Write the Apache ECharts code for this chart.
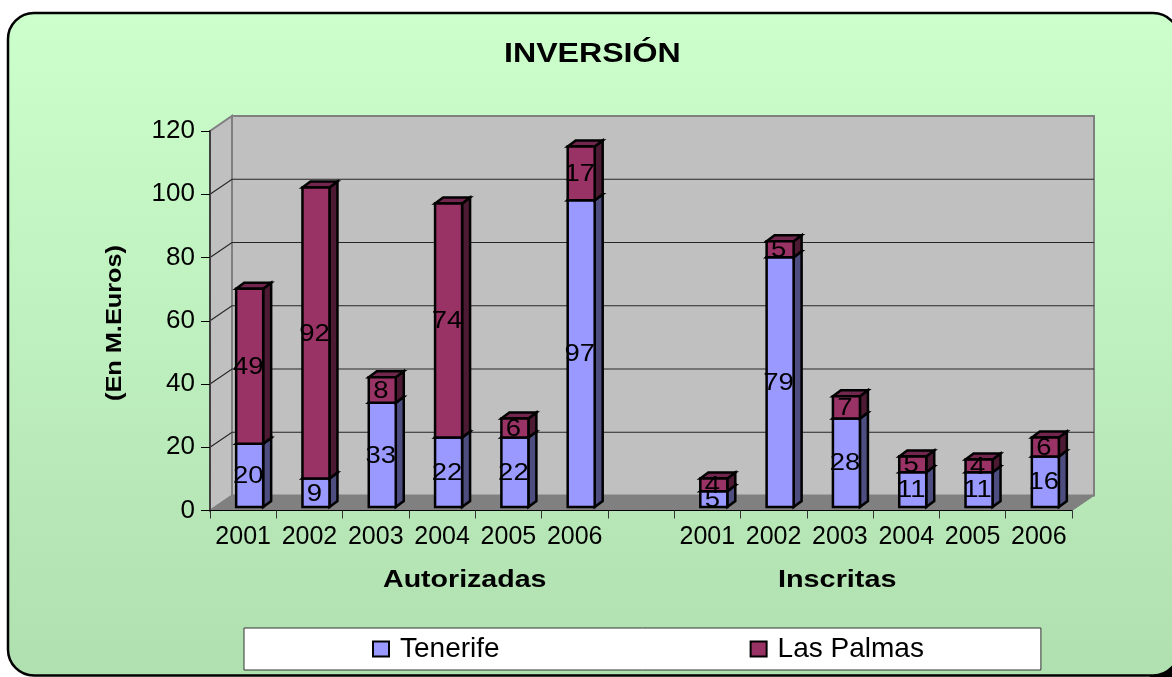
<!DOCTYPE html>
<html>
<head>
<meta charset="utf-8">
<title>Inversión</title>
<style>
  html, body { margin: 0; padding: 0; background: #fff; }
  #chart { width: 1172px; height: 677px; }
</style>
<script src="https://cdn.jsdelivr.net/npm/echarts@6/dist/echarts.min.js"></script>
</head>
<body>
<div id="chart"></div>
<script>
const categories = ['2001', '2002', '2003', '2004', '2005', '2006', '', '2001', '2002', '2003', '2004', '2005', '2006']
const tenerife = [20, 9, 33, 22, 22, 97, null, 5, 79, 28, 11, 11, 16]
const lasPalmas = [49, 92, 8, 74, 6, 17, null, 4, 5, 7, 5, 4, 6]
const yTicks = [0, 20, 40, 60, 80, 100, 120]
const FONT = '"Liberation Sans", Arial, sans-serif'

// fake 3D: depth of the chart box and of each bar, in px
const BOX_DX = 22
const BOX_DY = -15
const BAR_DX = 8
const BAR_DY = -6
const BAR_SHIFT_X = 6.5
const BAR_SHIFT_Y = -3.5
const BAR_W = 27

function poly(points, fill, stroke, lineWidth) {
  return {
    type: 'polygon',
    shape: { points: points },
    style: { fill: fill, stroke: stroke, lineWidth: lineWidth }
  }
}

// side wall, back wall and floor
function renderWalls(params, api) {
  const cs = params.coordSys
  const x0 = cs.x
  const x1 = cs.x + cs.width
  const yTop = api.coord([0, 120])[1]
  const yBase = api.coord([0, 0])[1]
  return {
    type: 'group',
    children: [
      poly([[x0, yTop], [x0 + BOX_DX, yTop + BOX_DY], [x0 + BOX_DX, yBase + BOX_DY], [x0, yBase]], '#C0C0C0', '#808080', 2),
      poly([[x0 + BOX_DX, yTop + BOX_DY], [x1 + BOX_DX, yTop + BOX_DY], [x1 + BOX_DX, yBase + BOX_DY], [x0 + BOX_DX, yBase + BOX_DY]], '#C0C0C0', '#808080', 2),
      poly([[x0, yBase], [x0 + BOX_DX, yBase + BOX_DY], [x1 + BOX_DX, yBase + BOX_DY], [x1, yBase]], '#808080', '#808080', 1)
    ]
  }
}

// grid lines run along the side wall and then the back wall
function renderGrid(params, api) {
  const cs = params.coordSys
  const x0 = cs.x
  const x1 = cs.x + cs.width
  const y = api.coord([0, api.value(0)])[1]
  return {
    type: 'polyline',
    shape: { points: [[x0, y], [x0 + BOX_DX, y + BOX_DY], [x1 + BOX_DX, y + BOX_DY]] },
    style: { fill: 'none', stroke: '#262626', lineWidth: 1.2 }
  }
}

function renderBar(colors) {
  return function (params, api) {
    if (api.value(1) === api.value(2)) return null
    const cx = api.coord([api.value(0), 0])[0] + BAR_SHIFT_X
    const yBot = api.coord([0, api.value(1)])[1] + BAR_SHIFT_Y
    const yTop = api.coord([0, api.value(2)])[1] + BAR_SHIFT_Y
    const l = cx - BAR_W / 2
    const r = cx + BAR_W / 2
    return {
      type: 'group',
      children: [
        poly([[r, yBot], [r + BAR_DX, yBot + BAR_DY], [r + BAR_DX, yTop + BAR_DY], [r, yTop]], colors.side, '#000', 2.5),
        poly([[l, yTop], [l + BAR_DX, yTop + BAR_DY], [r + BAR_DX, yTop + BAR_DY], [r, yTop]], colors.top, '#000', 2.5),
        poly([[l, yBot], [r, yBot], [r, yTop], [l, yTop]], colors.front, '#000', 2.5),
        {
          type: 'text',
          x: cx - 1.5,
          y: (yBot + yTop) / 2 + 1,
          scaleX: 1.12,
          style: {
            text: String(api.value(2) - api.value(1)),
            fill: '#000',
            font: '24.5px ' + FONT,
            align: 'center',
            verticalAlign: 'middle'
          }
        }
      ]
    }
  }
}

// the original text is stretched sideways
function stretchedText(text, x, y, size, stretch) {
  return {
    type: 'text',
    x: x,
    y: y,
    scaleX: stretch,
    style: { text: text, fill: '#000', font: 'bold ' + size + 'px ' + FONT, align: 'left', verticalAlign: 'middle' }
  }
}

// [category, from, to] for each stacked segment
const tenerifeData = tenerife.map((v, i) => [i, 0, v || 0])
const lasPalmasData = lasPalmas.map((v, i) => [i, tenerife[i] || 0, (tenerife[i] || 0) + (v || 0)])

const chart = echarts.init(document.getElementById('chart'))
chart.setOption({
  animation: false,
  textStyle: { fontFamily: FONT },
  graphic: {
    elements: [
      // black notch outside the rounded corner, bottom right
      {
        type: 'rect',
        z: -11,
        shape: { x: 1150, y: 655, width: 22, height: 22 },
        style: { fill: '#000' }
      },
      {
        type: 'rect',
        z: -10,
        shape: { x: 8, y: 13, width: 1171, height: 662.5, r: 26 },
        style: {
          fill: {
            type: 'linear', x: 0, y: 0, x2: 0, y2: 1,
            colorStops: [{ offset: 0, color: '#CCFFCC' }, { offset: 1, color: '#B0DFB0' }]
          },
          stroke: '#000',
          lineWidth: 2.5
        }
      },
      stretchedText('INVERSIÓN', 504, 55, 27, 1.19),
      stretchedText('Autorizadas', 383, 580, 24, 1.19),
      stretchedText('Inscritas', 778, 580, 24, 1.2),
      {
        type: 'text',
        x: 115,
        y: 323,
        rotation: Math.PI / 2,
        scaleX: 1.15,
        style: { text: '(En M.Euros)', fill: '#000', font: 'bold 22px ' + FONT, align: 'center', verticalAlign: 'middle' }
      }
    ]
  },
  legend: {
    left: 244,
    top: 628,
    data: ['Tenerife', 'Las Palmas'],
    icon: 'rect',
    itemWidth: 16,
    itemHeight: 15,
    itemGap: 250,
    padding: [7, 117, 7, 128],
    backgroundColor: '#fff',
    borderColor: '#333',
    borderWidth: 1,
    textStyle: { color: '#000', fontSize: 28, padding: [0, 0, 0, 6] }
  },
  grid: { left: 210, right: 100, top: 131, bottom: 166.5 },
  xAxis: {
    type: 'category',
    data: categories,
    z: 5,
    axisLine: { lineStyle: { color: '#000', width: 1 } },
    axisTick: { show: true, length: 8, alignWithLabel: false, interval: 0, lineStyle: { color: '#333' } },
    axisLabel: { interval: 0, color: '#000', fontSize: 25, margin: 14 },
    splitLine: { show: false }
  },
  yAxis: {
    type: 'value',
    min: 0,
    max: 120,
    interval: 20,
    z: 5,
    axisLine: { show: true, lineStyle: { color: '#404040', width: 2 } },
    axisTick: { show: true, length: 9, lineStyle: { color: '#000' } },
    axisLabel: { color: '#000', fontSize: 26, margin: 15, padding: [5, 0, 0, 0] },
    splitLine: { show: false }
  },
  series: [
    { type: 'custom', name: 'walls', renderItem: renderWalls, data: [[0]], silent: true, z: 1 },
    { type: 'custom', name: 'grid', renderItem: renderGrid, data: yTicks.slice(1, -1).map(v => [v]), silent: true, z: 2, encode: { y: 0 } },
    {
      type: 'custom',
      name: 'Tenerife',
      renderItem: renderBar({ front: '#9999FF', side: '#4D4D80', top: '#7373BF' }),
      data: tenerifeData,
      encode: { x: 0, y: 2 },
      itemStyle: { color: '#9999FF', borderColor: '#000', borderWidth: 2 },
      z: 3
    },
    {
      type: 'custom',
      name: 'Las Palmas',
      renderItem: renderBar({ front: '#993366', side: '#4D1A33', top: '#73264D' }),
      data: lasPalmasData,
      encode: { x: 0, y: 2 },
      itemStyle: { color: '#993366', borderColor: '#000', borderWidth: 2 },
      z: 4
    }
  ]
})
</script>
</body>
</html>
